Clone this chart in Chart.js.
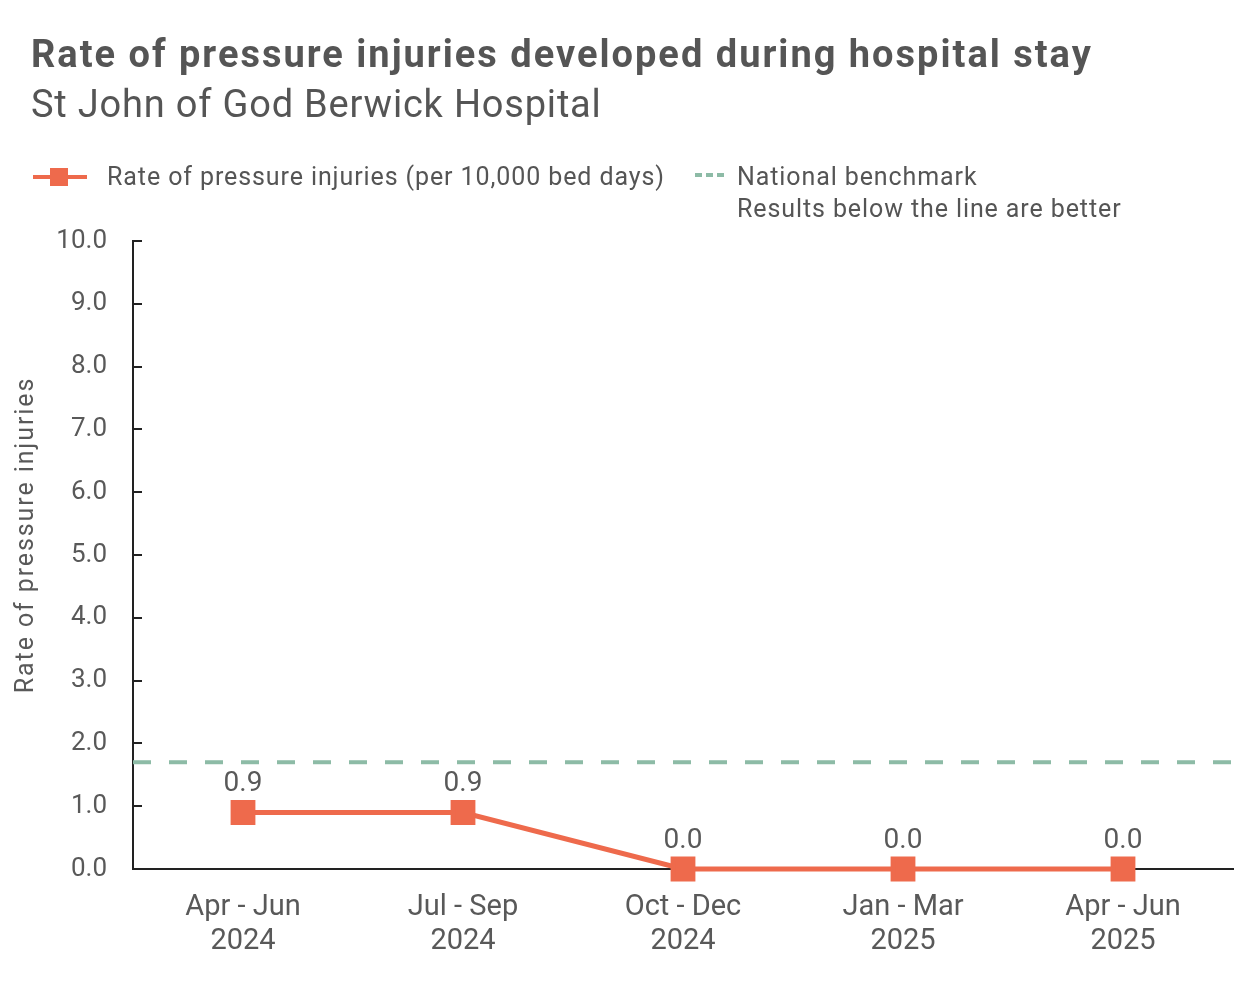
<!DOCTYPE html>
<html>
<head>
<meta charset="utf-8">
<script src="https://cdn.jsdelivr.net/npm/chart.js@4.4.0/dist/chart.umd.min.js"></script>
<style>
    body { margin: 0; background: #fff; font-family: Roboto, sans-serif; color: #555; }
    #wrap { position: relative; width: 1260px; height: 981px; }
    #box { position: absolute; left: 0; top: 0; width: 1260px; height: 981px; }
    .title { position: absolute; left: 31px; top: 32px; font-size: 38px; font-weight: bold; letter-spacing: 2px; white-space: nowrap; }
    .sub { position: absolute; left: 31px; top: 82px; font-size: 38px; letter-spacing: 0.8px; white-space: nowrap; }
    .leg { position: absolute; font-size: 25px; letter-spacing: 0.9px; white-space: nowrap; line-height: 32px; }
    .l1line { position: absolute; left: 33px; top: 175px; width: 54px; height: 4px; background: #EE6A4C; }
    .l1sq { position: absolute; left: 50px; top: 168px; width: 18px; height: 18px; background: #EE6A4C; }
    .l2line { position: absolute; left: 695px; top: 173px; width: 30px; height: 4px;
        background: repeating-linear-gradient(to right, #8DBBA6 0 7px, transparent 7px 11px); }
</style>
</head>
<body>
<div id="wrap">
    <div id="box"><canvas id="myChart"></canvas></div>
    <div class="title">Rate of pressure injuries developed during hospital stay</div>
    <div class="sub">St John of God Berwick Hospital</div>
    <div class="l1line"></div><div class="l1sq"></div>
    <div class="leg" style="left:107px; top:161px;">Rate of pressure injuries (per 10,000 bed days)</div>
    <div class="l2line"></div>
    <div class="leg" style="left:737px; top:161px;">National benchmark<br>Results below the line are better</div>
</div>
<script>
// data
const periods = ['Apr - Jun', 'Jul - Sep', 'Oct - Dec', 'Jan - Mar', 'Apr - Jun'];
const years = ['2024', '2024', '2024', '2025', '2025'];
const rates = [0.9, 0.9, 0.0, 0.0, 0.0];
const benchmark = 1.7;
const yTicks = [0, 1, 2, 3, 4, 5, 6, 7, 8, 9, 10];

const lineColor = '#EE6A4C';
const benchColor = '#8DBBA6';
const textColor = '#595959';

Chart.defaults.font.family = 'Roboto, sans-serif';
Chart.defaults.color = textColor;

const labels = periods.map((p, i) => [p, years[i]]);

// benchmark dashed line, inward tick marks, value labels, axis title
const extras = {
    id: 'extras',
    beforeDatasetsDraw(chart) {
        const ctx = chart.ctx;
        const area = chart.chartArea;
        const y = chart.scales.y;
        ctx.save();
        ctx.strokeStyle = benchColor;
        ctx.lineWidth = 4;
        ctx.setLineDash([18, 18]);
        let by = y.getPixelForValue(benchmark);
        ctx.beginPath();
        ctx.moveTo(area.left, by);
        ctx.lineTo(area.right, by);
        ctx.stroke();
        ctx.setLineDash([]);
        ctx.strokeStyle = '#222';
        ctx.lineWidth = 2;
        yTicks.forEach(v => {
            let ty = Math.round(y.getPixelForValue(v));
            ctx.beginPath();
            ctx.moveTo(area.left, ty);
            ctx.lineTo(area.left + 9, ty);
            ctx.stroke();
        });
        ctx.restore();
    },
    afterDatasetsDraw(chart) {
        const ctx = chart.ctx;
        const meta = chart.getDatasetMeta(0);
        ctx.save();
        ctx.fillStyle = textColor;
        ctx.font = '28px Roboto, sans-serif';
        ctx.textAlign = 'center';
        ctx.textBaseline = 'middle';
        meta.data.forEach((pt, i) => {
            ctx.fillText(rates[i].toFixed(1), pt.x, pt.y - 28);
        });
        // y axis title
        ctx.translate(27, 535);
        ctx.rotate(-Math.PI / 2);
        ctx.font = '25px Roboto, sans-serif';
        ctx.letterSpacing = '1.9px';
        ctx.fillText('Rate of pressure injuries', 0, 0);
        ctx.restore();
    }
};

const data = {
    labels: labels,
    datasets: [{
            label: 'Rate of pressure injuries (per 10,000 bed days)',
            data: rates,
            borderColor: lineColor,
            backgroundColor: lineColor,
            borderWidth: 5,
            pointStyle: 'rect',
            pointRadius: 14,
            pointHoverRadius: 14,
            tension: 0,
            clip: false
        }]
};

const config = {
    type: 'line',
    data: data,
    plugins: [extras],
    options: {
        responsive: true,
        maintainAspectRatio: false,
        animation: false,
        layout: { padding: { top: 241, right: 27, bottom: 0, left: 0 } },
        plugins: {
            legend: { display: false },
            tooltip: { enabled: false }
        },
        scales: {
            x: {
                offset: true,
                grid: { display: false, drawTicks: false },
                border: { display: true, color: '#222', width: 2 },
                ticks: { padding: 22, font: { size: 29, lineHeight: 1.17 }, color: textColor, maxRotation: 0 },
                afterFit(scale) { scale.height = 112; }
            },
            y: {
                min: 0,
                max: 10,
                grid: { display: false, drawTicks: false },
                border: { display: true, color: '#222', width: 2 },
                ticks: {
                    stepSize: 1,
                    padding: 26,
                    font: { size: 26 },
                    color: textColor,
                    callback: v => v.toFixed(1)
                },
                afterFit(scale) { scale.width = 133; }
            }
        }
    }
};

let ctx = document.getElementById('myChart').getContext('2d');
new Chart(ctx, config);
</script>
</body>
</html>
